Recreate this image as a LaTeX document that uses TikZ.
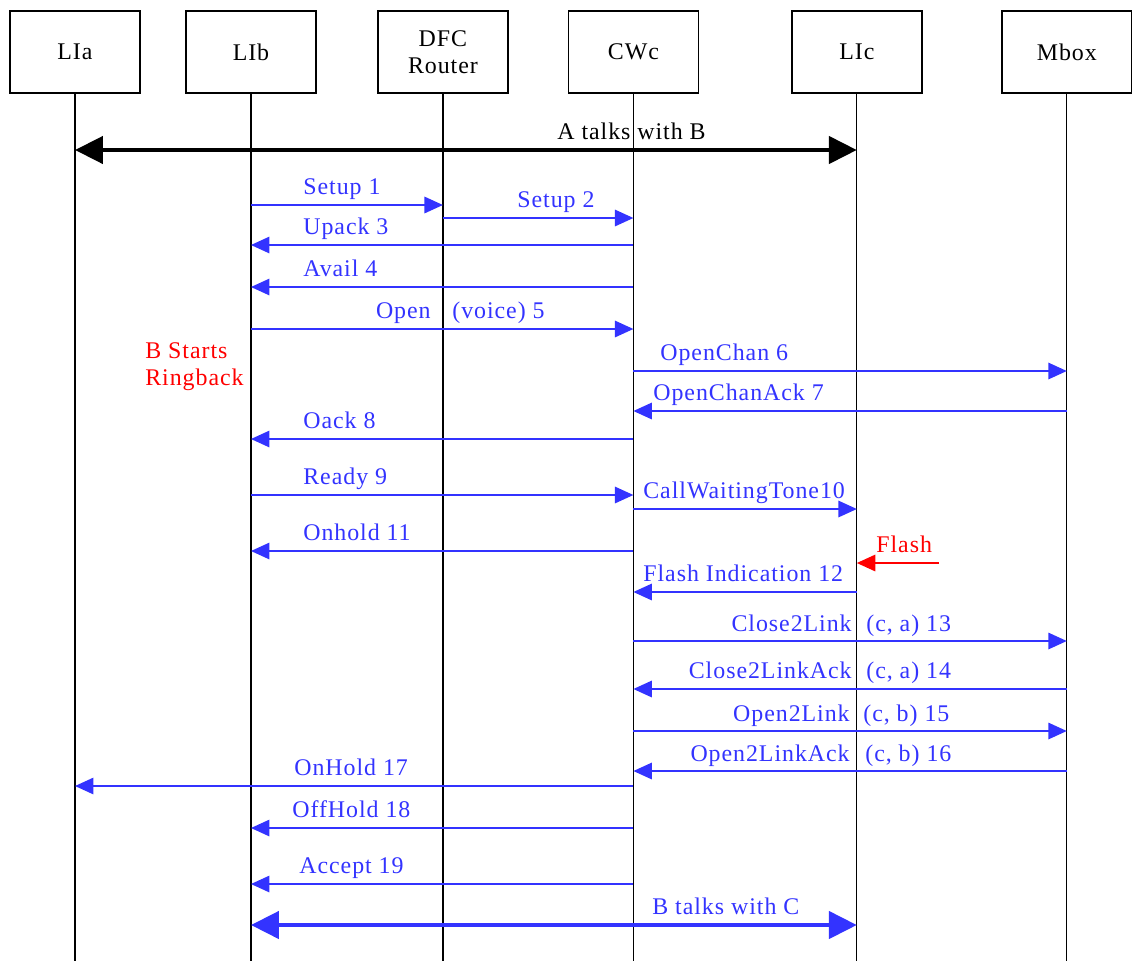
\documentclass[tikz,border=0pt]{standalone}
\usepackage{fontspec}
\setmainfont{Liberation Serif}[LetterSpace=4.0]
\usepackage{tikz}
\usetikzlibrary{arrows.meta,positioning}
\definecolor{msgblue}{RGB}{51,51,255}

\begin{document}
\begin{tikzpicture}[
  x=0.02cm, y=-0.02cm,
  node distance=1cm,
  party/.style={draw, line width=0.8pt, outer sep=0pt, minimum width=2.6cm, minimum height=1.64cm, align=center, font=\fontsize{13.6}{15.5}\selectfont, inner sep=0pt},
  lifeline/.style={line width=0.7pt},
  msg/.style={-{Triangle[length=0.37cm, width=0.33cm]}, line width=0.9pt, msgblue},
  talk/.style={{Triangle[length=0.56cm, width=0.54cm]}-{Triangle[length=0.56cm, width=0.54cm]}, line width=2.6pt},
  lbl/.style={font=\fontsize{13.6}{15.5}\selectfont, text=msgblue, inner sep=0pt, anchor=base west},
  note/.style={lbl, text=red}
]
  \useasboundingbox (0,0) rectangle (1132,961);

  % Parties
  \node[party] (lia) at (75,52) {LIa};
  \node[party, right=0.92cm of lia] (lib) {LIb};
  \node[party, right=1.24cm of lib] (dfc) {DFC\\Router};
  \node[party, right=1.21cm of dfc] (cwc) {CWc};
  \node[party, right=1.87cm of cwc] (lic) {LIc};
  \node[party, right=1.6cm of lic] (mbox) {Mbox};

  \foreach \p in {lia,lib,dfc,cwc,lic,mbox}
    \draw[lifeline] (\p.south) -- (\p |- 0,961);

  % A talks with B
  \draw[talk] (lia |- 0,150) -- (lic |- 0,150);
  \node[lbl, text=black] (atb) at (557,139) {A talks with B};

  % Call setup
  \draw[msg] (lib |- 0,205) -- (dfc |- 0,205);
  \node[lbl] (m1) at (303,194) {Setup 1};
  \draw[msg] (dfc |- 0,218) -- (cwc |- 0,218);
  \node[lbl] (m2) at (517,207) {Setup 2};
  \draw[msg] (cwc |- 0,245) -- (lib |- 0,245);
  \node[lbl] (m3) at (303,234) {Upack 3};
  \draw[msg] (cwc |- 0,287) -- (lib |- 0,287);
  \node[lbl] (m4) at (303,276) {Avail 4};
  \draw[msg] (lib |- 0,329) -- (cwc |- 0,329);
  \node[lbl, anchor=base east] (m5a) at (431,318) {Open};
  \node[lbl] (m5b) at (452,318) {(voice) 5};

  \node[note] (ring1) at (145,358) {B Starts};
  \node[note] (ring2) at (145,385) {Ringback};

  \draw[msg] (cwc |- 0,371) -- (mbox |- 0,371);
  \node[lbl] (m6) at (660,360) {OpenChan 6};
  \draw[msg] (mbox |- 0,411) -- (cwc |- 0,411);
  \node[lbl] (m7) at (653,400) {OpenChanAck 7};
  \draw[msg] (cwc |- 0,439) -- (lib |- 0,439);
  \node[lbl] (m8) at (303,428) {Oack 8};
  \draw[msg] (lib |- 0,495) -- (cwc |- 0,495);
  \node[lbl] (m9) at (303,484) {Ready 9};
  \draw[msg] (cwc |- 0,509) -- (lic |- 0,509);
  \node[lbl] (m10) at (643,498) {CallWaitingTone10};
  \draw[msg] (cwc |- 0,551) -- (lib |- 0,551);
  \node[lbl] (m11) at (303,540) {Onhold 11};

  % Flash from the user
  \coordinate (flashsrc) at (939,563);
  \draw[msg, red] (flashsrc) -- (lic |- flashsrc);
  \node[note] (flash) at (876,552) {Flash};
  \draw[msg] (lic |- 0,592) -- (cwc |- 0,592);
  \node[lbl] (m12) at (643,581) {Flash Indication 12};

  % Relinking via the mailbox
  \draw[msg] (cwc |- 0,641) -- (mbox |- 0,641);
  \node[lbl, anchor=base east] (m13a) at (852,631) {Close2Link};
  \node[lbl] (m13b) at (866,631) {(c, a) 13};
  \draw[msg] (mbox |- 0,689) -- (cwc |- 0,689);
  \node[lbl, anchor=base east] (m14a) at (852,678) {Close2LinkAck};
  \node[lbl] (m14b) at (866,678) {(c, a) 14};
  \draw[msg] (cwc |- 0,731) -- (mbox |- 0,731);
  \node[lbl, anchor=base east] (m15a) at (850,721) {Open2Link};
  \node[lbl] (m15b) at (863,721) {(c, b) 15};
  \draw[msg] (mbox |- 0,771) -- (cwc |- 0,771);
  \node[lbl, anchor=base east] (m16a) at (850,761) {Open2LinkAck};
  \node[lbl] (m16b) at (865,761) {(c, b) 16};

  \draw[msg] (cwc |- 0,786) -- (lia |- 0,786);
  \node[lbl] (m17) at (294,775) {OnHold 17};
  \draw[msg] (cwc |- 0,828) -- (lib |- 0,828);
  \node[lbl] (m18) at (292,817) {OffHold 18};
  \draw[msg] (cwc |- 0,884) -- (lib |- 0,884);
  \node[lbl] (m19) at (299,873) {Accept 19};

  % B talks with C
  \draw[talk, msgblue] (lib |- 0,925) -- (lic |- 0,925);
  \node[lbl] (btc) at (652,914) {B talks with C};
\end{tikzpicture}
\end{document}
